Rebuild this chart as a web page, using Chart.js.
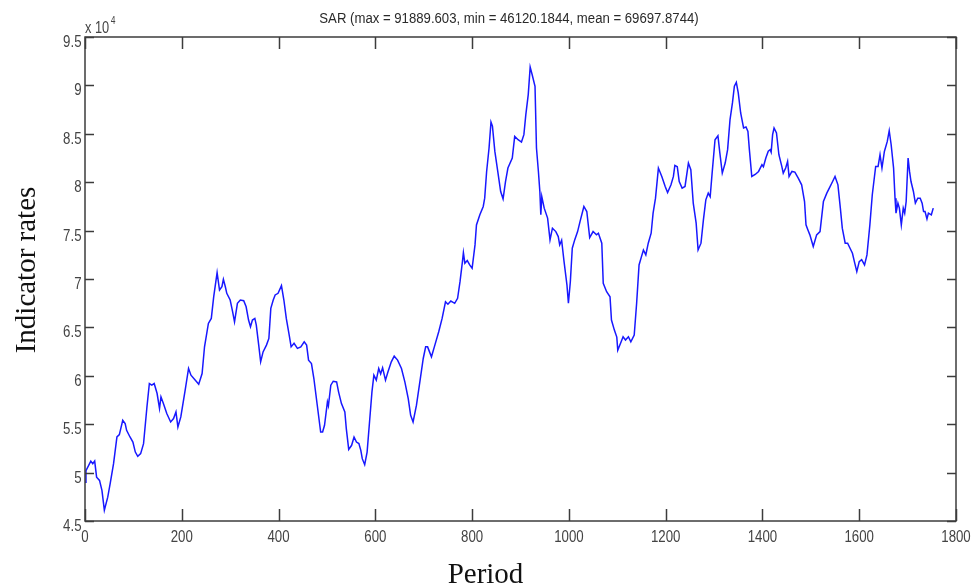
<!DOCTYPE html>
<html>
<head>
<meta charset="utf-8">
<title>SAR indicator</title>
<script src="https://cdn.jsdelivr.net/npm/chart.js@4.4.1/dist/chart.umd.min.js"></script>
<style>
  html, body { margin: 0; padding: 0; background: #ffffff; }
  canvas { display: block; }
</style>
</head>
<body>
<canvas id="sar" width="974" height="588"></canvas>
<script>
// Observation period (x) and SAR indicator level (y)
const periods = [
  0, 2, 12, 16, 20, 24, 30, 35, 40, 47,
  52, 59, 66, 71, 78, 83, 86, 93, 99, 104,
  109, 115, 121, 128, 133, 138, 143, 149, 154, 157,
  162, 169, 177, 183, 188, 192, 198, 207, 214, 219,
  228, 235, 242, 247, 255, 261, 266, 273, 278, 283,
  286, 290, 293, 300, 305, 309, 315, 321, 328, 333,
  338, 342, 346, 351, 354, 359, 363, 368, 375, 380,
  384, 389, 393, 399, 406, 411, 416, 422, 426, 432,
  439, 446, 453, 458, 462, 468, 473, 480, 487, 491,
  495, 501, 503, 508, 513, 520, 524, 530, 537, 540,
  545, 551, 556, 561, 566, 570, 573, 578, 583, 588,
  593, 597, 602, 607, 611, 615, 621, 626, 633, 639,
  646, 654, 661, 668, 673, 678, 685, 692, 699, 704,
  708, 716, 723, 731, 738, 745, 750, 756, 764, 770,
  775, 780, 782, 785, 790, 795, 800, 806, 809, 816,
  823, 826, 830, 835, 839, 842, 847, 853, 859, 864,
  869, 874, 883, 888, 895, 902, 907, 911, 916, 920,
  924, 930, 933, 937, 940, 942, 944, 949, 956, 961,
  966, 973, 978, 981, 985, 990, 996, 999, 1003, 1007,
  1012, 1018, 1023, 1031, 1037, 1043, 1050, 1057, 1061, 1068,
  1071, 1078, 1085, 1088, 1094, 1099, 1101, 1108, 1112, 1117,
  1123, 1128, 1135, 1140, 1145, 1150, 1154, 1159, 1164, 1170,
  1174, 1179, 1185, 1192, 1199, 1204, 1211, 1216, 1219, 1224,
  1228, 1234, 1240, 1247, 1252, 1257, 1263, 1267, 1273, 1278,
  1283, 1288, 1292, 1296, 1302, 1308, 1312, 1317, 1323, 1328,
  1333, 1338, 1342, 1346, 1350, 1355, 1361, 1366, 1370, 1373,
  1378, 1385, 1392, 1399, 1402, 1407, 1412, 1416, 1418, 1421,
  1424, 1429, 1434, 1440, 1443, 1448, 1452, 1455, 1461, 1467,
  1474, 1481, 1487, 1490, 1494, 1498, 1505, 1512, 1519, 1526,
  1533, 1540, 1545, 1550, 1556, 1561, 1565, 1571, 1576, 1581,
  1586, 1590, 1595, 1600, 1605, 1611, 1616, 1622, 1627, 1634,
  1639, 1643, 1647, 1652, 1658, 1662, 1666, 1671, 1674, 1676,
  1680, 1683, 1687, 1691, 1694, 1697, 1701, 1704, 1707, 1712,
  1716, 1721, 1726, 1730, 1733, 1736, 1740, 1743, 1749, 1753
];

const sarValues = [
  49000, 50200, 51190, 50920, 51190, 49530, 49190, 48160, 46120.1844, 47460,
  48850, 50920, 53680, 53920, 55400, 55060, 54370, 53680, 53160, 52120,
  51680, 51960, 52990, 56780, 59200, 59030, 59200, 58170, 56620, 57820,
  57130, 56100, 55230, 55580, 56260, 54710, 55750, 58510, 60760, 60060,
  59550, 59130, 60240, 63000, 65410, 65930, 68170, 70660, 68860, 69200,
  69970, 69200, 68520, 67830, 66620, 65580, 67490, 67830, 67760, 67130,
  65760, 65060, 65760, 65930, 65240, 63170, 61440, 62470, 63170, 63860,
  66970, 67830, 68350, 68520, 69310, 67830, 65930, 64200, 62990, 63350,
  62830, 62990, 63510, 63170, 61620, 61270, 59720, 56960, 54190, 54190,
  54890, 57300, 56900, 59030, 59440, 59370, 58340, 57130, 56260, 54550,
  52400, 52820, 53680, 53160, 53000, 52300, 51440, 50820, 52120, 55230,
  58340, 60060, 59550, 60760, 60200, 60820, 59550, 60400, 61440, 62030,
  61620, 60760, 59370, 57650, 55920, 55230, 56960, 59370, 61790, 62990,
  62990, 61960, 63170, 64550, 65930, 67650, 67400, 67720, 67490, 68000,
  69720, 71790, 72720, 71630, 71900, 71450, 71110, 73520, 75590, 76630,
  77490, 78350, 81110, 83530, 86220, 85800, 83180, 81110, 79040, 78280,
  80070, 81460, 82500, 84730, 84390, 84150, 84910, 86980, 89050, 91889.603,
  91120, 89910, 83530, 81110, 79040, 76630, 78520, 77320, 76290, 74040,
  75250, 74900, 74380, 73520, 74000, 71790, 69380, 67490, 69720, 73180,
  74040, 74900, 75930, 77490, 76970, 74280, 74900, 74560, 74730, 73700,
  69560, 68690, 68170, 65760, 64720, 64000, 62650, 63510, 64030, 63700,
  64030, 63510, 64200, 67490, 71450, 72310, 73000, 72490, 73700, 74730,
  76800, 78350, 81460, 80590, 79560, 78940, 79730, 80600, 81730, 81600,
  80070, 79390, 79560, 81980, 81290, 77840, 75770, 73000, 73700, 76110,
  78180, 78870, 78500, 80940, 84390, 84800, 83010, 80940, 81980, 83360,
  86460, 88190, 89910, 90320, 89220, 87150, 85600, 85700, 85250, 83360,
  80590, 80800, 81110, 81800, 81600, 82500, 83200, 83360, 83100, 84910,
  85600, 85080, 82840, 81630, 80940, 81460, 82140, 80590, 81110, 81040,
  80420, 79730, 78000, 75590, 75070, 74560, 73350, 74560, 74900, 78000,
  78870, 79560, 80070, 80590, 79730, 77320, 75250, 73700, 73700, 73180,
  72660, 71790, 70760, 71790, 72000, 71450, 72490, 75590, 78700, 81630,
  81630, 82840, 81460, 83180, 84210, 85320, 83870, 81460, 78350, 76800,
  77840, 77320, 75590, 77320, 76800, 78000, 82500, 81110, 80070, 79040,
  77840, 78350, 78350, 77840, 76970, 76970, 76210, 76800, 76630, 77320
];

// Axis ranges and tick steps
const xRange = [0, 1800];
const xStep = 200;
const yRange = [45000, 95000];
const yStep = 5000;
const yExponent = 4;

// Text
const chartTitle = 'SAR (max = 91889.603, min = 46120.1844, mean = 69697.8744)';
const xAxisTitle = 'Period';
const yAxisTitle = 'Indicator rates';

const sansFont = "'Liberation Sans', Arial, sans-serif";
const serifFont = "'Liberation Serif', 'Times New Roman', serif";

// Draws text squeezed horizontally, giving the narrow look of the figure's labels
function narrowText(ctx, text, x, y, align, squeeze) {
  ctx.save();
  ctx.translate(x, y);
  ctx.scale(squeeze, 1);
  ctx.textAlign = align;
  ctx.fillText(text, 0, 0);
  ctx.restore();
}

// Box, inward tick marks on all four sides, tick labels and free-standing texts
const figureFrame = {
  id: 'figureFrame',
  afterDraw(chart) {
    const { ctx, chartArea: a, scales: { x, y } } = chart;
    ctx.save();

    ctx.strokeStyle = '#3c3c3c';
    ctx.lineWidth = 1.5;
    ctx.strokeRect(a.left, a.top, a.right - a.left, a.bottom - a.top);

    ctx.beginPath();
    x.ticks.forEach(t => {
      const px = Math.round(x.getPixelForValue(t.value)) + 0.5;
      ctx.moveTo(px, a.bottom); ctx.lineTo(px, a.bottom - 12);
      ctx.moveTo(px, a.top); ctx.lineTo(px, a.top + 12);
    });
    y.ticks.forEach(t => {
      const py = Math.round(y.getPixelForValue(t.value)) + 0.5;
      ctx.moveTo(a.left, py); ctx.lineTo(a.left + 9, py);
      ctx.moveTo(a.right, py); ctx.lineTo(a.right - 9, py);
    });
    ctx.stroke();

    // tick labels
    ctx.fillStyle = '#444444';
    ctx.textBaseline = 'alphabetic';
    ctx.font = `17px ${sansFont}`;
    x.ticks.forEach(t => {
      narrowText(ctx, String(t.value), x.getPixelForValue(t.value), a.bottom + 21, 'center', 0.78);
    });
    y.ticks.forEach(t => {
      const label = String(t.value / Math.pow(10, yExponent));
      narrowText(ctx, label, a.left - 3.5, y.getPixelForValue(t.value) + 10, 'right', 0.78);
    });

    // exponent marker of the y scale
    ctx.font = `16px ${sansFont}`;
    narrowText(ctx, 'x 10', a.left, 33, 'left', 0.8);
    const w = ctx.measureText('x 10').width * 0.8;
    ctx.font = `10px ${sansFont}`;
    narrowText(ctx, String(yExponent), a.left + w + 1.5, 24, 'left', 0.85);

    // title
    ctx.fillStyle = '#2a2a2a';
    ctx.font = `14px ${sansFont}`;
    ctx.textBaseline = 'middle';
    narrowText(ctx, chartTitle, 509, 19, 'center', 0.94);

    // axis titles
    ctx.fillStyle = '#111111';
    ctx.font = `29px ${serifFont}`;
    ctx.textAlign = 'center';
    ctx.textBaseline = 'alphabetic';
    ctx.fillText(xAxisTitle, 485.5, 583);
    ctx.translate(35, 270);
    ctx.rotate(-Math.PI / 2);
    ctx.fillText(yAxisTitle, 0, 0);

    ctx.restore();
  }
};

new Chart(document.getElementById('sar'), {
  type: 'line',
  data: {
    datasets: [{
      label: 'SAR',
      data: periods.map((p, i) => ({ x: p, y: sarValues[i] })),
      borderColor: 'rgb(24, 24, 255)',
      borderWidth: 1.5,
      pointRadius: 0,
      tension: 0,
      fill: false
    }]
  },
  options: {
    responsive: false,
    animation: false,
    devicePixelRatio: 1,
    layout: { padding: { top: 37, left: 0, right: 0, bottom: 0 } },
    plugins: {
      legend: { display: false },
      title: { display: false },
      tooltip: { enabled: false }
    },
    scales: {
      x: {
        type: 'linear',
        position: 'bottom',
        min: xRange[0],
        max: xRange[1],
        grid: { display: false, drawTicks: false },
        border: { display: false },
        ticks: { stepSize: xStep, display: false, autoSkip: false },
        afterFit(scale) { scale.height = 67; }
      },
      y: {
        type: 'linear',
        position: 'left',
        min: yRange[0],
        max: yRange[1],
        grid: { display: false, drawTicks: false },
        border: { display: false },
        ticks: { stepSize: yStep, display: false },
        afterFit(scale) { scale.width = 85; }
      },
      yRight: {
        type: 'linear',
        position: 'right',
        min: yRange[0],
        max: yRange[1],
        grid: { display: false, drawTicks: false },
        border: { display: false },
        ticks: { display: false },
        afterFit(scale) { scale.width = 18; }
      }
    }
  },
  plugins: [figureFrame]
});
</script>
</body>
</html>
